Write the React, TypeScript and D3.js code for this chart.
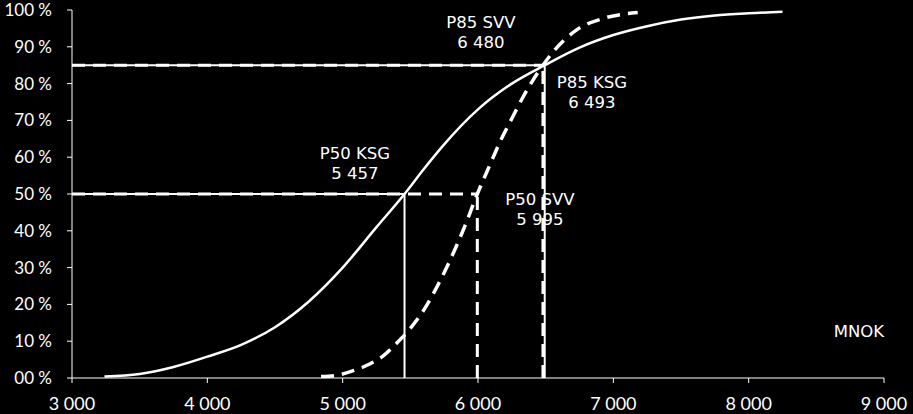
import React from "react";
import * as d3 from "d3";

const ksgX = [3240, 3500, 3750, 4000, 4250, 4500, 4750, 5000, 5250, 5457, 5600, 5750, 6000, 6250, 6493, 6750, 7000, 7250, 7500, 7750, 8000, 8250];
const ksgY = [0.4, 1.1, 3.0, 5.8, 9.0, 13.8, 20.8, 30, 41, 50, 56.8, 63.5, 73, 80, 85, 89.8, 93.2, 95.6, 97.4, 98.5, 99.1, 99.5];
const svvX = [4840, 4950, 5078, 5200, 5300, 5400, 5500, 5600, 5700, 5800, 5900, 5995, 6089, 6163, 6250, 6335, 6480, 6557, 6729, 6926, 7180];
const svvY = [0.4, 0.7, 2.0, 3.8, 6, 9.5, 13.5, 18.5, 25, 32.5, 41, 50, 58, 64.2, 70.5, 76.5, 85, 88.7, 94.6, 97.7, 99.3];

const xTicks = [3000, 4000, 5000, 6000, 7000, 8000, 9000];
const xTickLabels = ["3 000", "4 000", "5 000", "6 000", "7 000", "8 000", "9 000"];
const yTicks = [0, 10, 20, 30, 40, 50, 60, 70, 80, 90, 100];
const yTickLabels = ["00 %", "10 %", "20 %", "30 %", "40 %", "50 %", "60 %", "70 %", "80 %", "90 %", "100 %"];

const p50KSG = 5457, p50SVV = 5995, p85KSG = 6493, p85SVV = 6480;
const annotations = [
  { l1: "P85 SVV", l2: "6 480", x: 6022, y: 95.1 },
  { l1: "P85 KSG", l2: "6 493", x: 6842, y: 78.9 },
  { l1: "P50 KSG", l2: "5 457", x: 5091, y: 59.5 },
  { l1: "P50 SVV", l2: "5 995", x: 6458, y: 47 },
];

export default function App() {
  const W = 913, H = 414;
  const x = d3.scaleLinear().domain([3000, 9000]).range([72, 884]);
  const y = d3.scaleLinear().domain([0, 100]).range([378, 10]);
  const line = d3.line<[number, number]>().x(d => x(d[0])).y(d => y(d[1])).curve(d3.curveMonotoneX);
  const ksg = line(ksgX.map((v, i) => [v, ksgY[i]]) as [number, number][]) || "";
  const svv = line(svvX.map((v, i) => [v, svvY[i]]) as [number, number][]) || "";
  const dash = "13,8";
  const axisFont = "Lato, 'Open Sans', sans-serif";
  const annFont = "'DejaVu Sans', Verdana, sans-serif";
  return (
    <svg width={W} height={H} style={{ position: "absolute", left: 0, top: 0 }}>
      <rect width={W} height={H} fill="#000" />
      {annotations.map((a, i) => (
        <g key={i} fill="#fff" fontFamily={annFont} fontSize={16.5} textAnchor="middle">
          <text x={x(a.x)} y={y(a.y)}>{a.l1}</text>
          <text x={x(a.x)} y={y(a.y) + 20}>{a.l2}</text>
        </g>
      ))}
      <text x={x(8815)} y={337} fill="#fff" fontFamily={annFont} fontSize={16.5} textAnchor="middle">MNOK</text>
      <line x1={x(3000)} x2={x(9000)} y1={y(0)} y2={y(0)} stroke="#fff" strokeWidth={1} />
      <line x1={x(3000)} x2={x(3000)} y1={y(0)} y2={y(100)} stroke="#fff" strokeWidth={1} />
      {xTicks.map((t, i) => (
        <g key={t}>
          <line x1={x(t)} x2={x(t)} y1={y(0)} y2={y(0) + 5} stroke="#fff" />
          <text x={x(t)} y={410} fill="#fff" fontFamily={axisFont} fontSize={18} textAnchor="middle">{xTickLabels[i]}</text>
        </g>
      ))}
      {yTicks.map((t, i) => (
        <g key={t}>
          <line x1={x(3000) - 5} x2={x(3000)} y1={y(t)} y2={y(t)} stroke="#fff" />
          <text x={52} y={y(t) + 6} fill="#fff" fontFamily={axisFont} fontSize={17} textAnchor="end">{yTickLabels[i]}</text>
        </g>
      ))}
      <g stroke="#fff" fill="none">
        <line x1={x(3000)} x2={x(p50KSG)} y1={y(50)} y2={y(50)} strokeWidth={2} />
        <line x1={x(p50KSG)} x2={x(p50KSG)} y1={y(0)} y2={y(50)} strokeWidth={2} />
        <line x1={x(3000)} x2={x(p85KSG)} y1={y(85)} y2={y(85)} strokeWidth={2} />
        <line x1={x(p85KSG)} x2={x(p85KSG)} y1={y(0)} y2={y(85)} strokeWidth={2} />
        <line x1={x(3000)} x2={x(p50SVV)} y1={y(50)} y2={y(50)} strokeWidth={3} strokeDasharray={dash} />
        <line x1={x(p50SVV)} x2={x(p50SVV)} y1={y(0)} y2={y(50)} strokeWidth={3} strokeDasharray={dash} />
        <line x1={x(3000)} x2={x(p85SVV)} y1={y(85)} y2={y(85)} strokeWidth={3} strokeDasharray={dash} />
        <line x1={x(p85SVV)} x2={x(p85SVV)} y1={y(0)} y2={y(85)} strokeWidth={3} strokeDasharray={dash} />
      </g>
      <path d={ksg} stroke="#fff" strokeWidth={2.5} fill="none" />
      <path d={svv} stroke="#fff" strokeWidth={3.5} fill="none" strokeDasharray={dash} />
    </svg>
  );
}
